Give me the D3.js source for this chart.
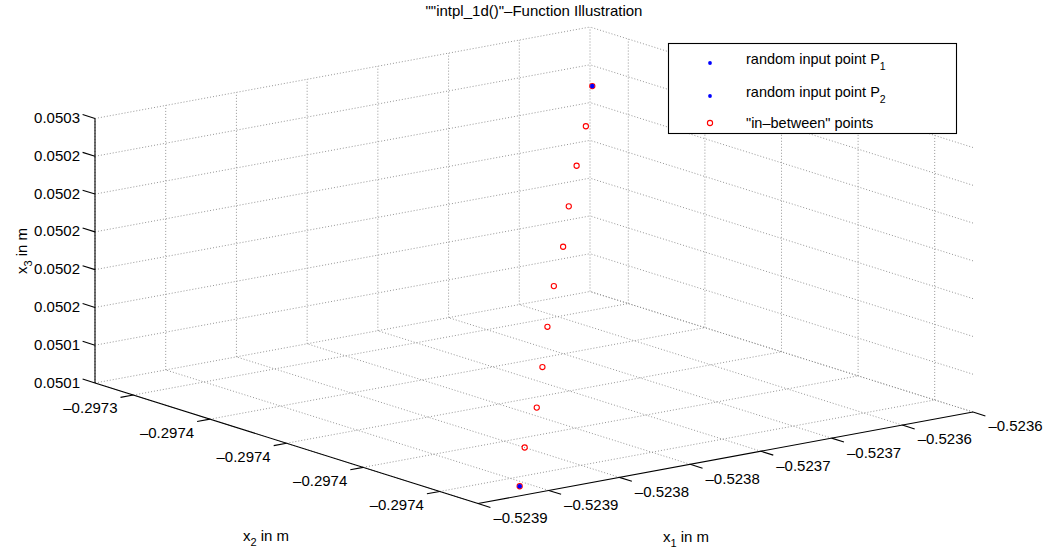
<!DOCTYPE html>
<html>
<head>
<meta charset="utf-8">
<script src="https://cdn.jsdelivr.net/npm/d3@7"></script>
<style>
body { margin: 0; background: #fff; }
text { font-family: "Liberation Sans", Arial, Helvetica, sans-serif; fill: #000; }
</style>
</head>
<body>
<script>
var w = 1052;
var h = 553;

// axis limits
var x1Domain = [-0.52390, -0.52355];
var x2Domain = [-0.297385, -0.297335];
var x3Domain = [0.05014, 0.05028];

// ticks and their labels (as printed)
var x1Ticks = [-0.52390, -0.52385, -0.52380, -0.52375, -0.52370, -0.52365, -0.52360, -0.52355];
var x1Labels = ['\u20130.5239', '\u20130.5239', '\u20130.5238', '\u20130.5238', '\u20130.5237', '\u20130.5237', '\u20130.5236', '\u20130.5236'];
var x2Ticks = [-0.29738, -0.29737, -0.29736, -0.29735, -0.29734];
var x2Labels = ['\u20130.2974', '\u20130.2974', '\u20130.2974', '\u20130.2974', '\u20130.2973'];
var x3Ticks = [0.05014, 0.05016, 0.05018, 0.05020, 0.05022, 0.05024, 0.05026, 0.05028];
var x3Labels = ['0.0501', '0.0501', '0.0502', '0.0502', '0.0502', '0.0502', '0.0502', '0.0503'];

// in-between points, from P1 to P2
var ptX1 = [-0.523550, -0.523580, -0.523612, -0.523643, -0.523673, -0.523705, -0.523735, -0.523764, -0.523794, -0.523828, -0.523857];
var ptX2 = [-0.2973353, -0.2973400, -0.2973447, -0.2973494, -0.2973542, -0.2973589, -0.2973636, -0.2973683, -0.2973731, -0.2973778, -0.2973825];
var ptX3 = [0.0502491, 0.0502380, 0.0502275, 0.0502163, 0.0502052, 0.0501948, 0.0501834, 0.0501721, 0.0501609, 0.0501505, 0.0501400];

// the two random input points
var inputP1 = [-0.523550, -0.2973353, 0.0502491];
var inputP2 = [-0.523857, -0.2973825, 0.0501400];

var legendItems = ['random input point P', 'random input point P', '"in\u2013between" points'];
var legendSubs = ['1', '2', ''];

var scaleA = d3.scaleLinear().domain(x1Domain).range([0, 1]);
var scaleB = d3.scaleLinear().domain(x2Domain).range([0, 1]);
var scaleC = d3.scaleLinear().domain(x3Domain).range([0, 1]);

// orthographic view: screen position of the box corner and the three box edges
var origin = [478, 503.5];
var ex = [495, -91.5];
var ey = [-383, -120.5];
var ez = [0, -264.5];

var proj = (p) => {
	var a = scaleA(p[0]), b = scaleB(p[1]), c = scaleC(p[2]);
	return [
		origin[0] + a * ex[0] + b * ey[0] + c * ez[0],
		origin[1] + a * ex[1] + b * ey[1] + c * ez[1]
	];
};

var unit = (v, s) => {
	var l = Math.sqrt(v[0] * v[0] + v[1] * v[1]);
	return [v[0] / l * s, v[1] / l * s];
};

var svg = d3.select('body').append('svg')
	.attr('width', w)
	.attr('height', h);

var x1min = x1Domain[0], x1max = x1Domain[1];
var x2min = x2Domain[0], x2max = x2Domain[1];
var x3min = x3Domain[0], x3max = x3Domain[1];

// grid segments on the back walls and the floor
var grid = [];
x1Ticks.forEach((t) => {
	grid.push([[t, x2max, x3min], [t, x2max, x3max]]);
	grid.push([[t, x2min, x3min], [t, x2max, x3min]]);
});
x2Ticks.forEach((t) => {
	grid.push([[x1max, t, x3min], [x1max, t, x3max]]);
	grid.push([[x1min, t, x3min], [x1max, t, x3min]]);
});
x3Ticks.forEach((t) => {
	grid.push([[x1min, x2max, t], [x1max, x2max, t]]);
	grid.push([[x1max, x2min, t], [x1max, x2max, t]]);
});

svg.append('g').selectAll('line')
	.data(grid)
	.enter().append('line')
	.attr('x1', (d) => proj(d[0])[0])
	.attr('y1', (d) => proj(d[0])[1])
	.attr('x2', (d) => proj(d[1])[0])
	.attr('y2', (d) => proj(d[1])[1])
	.attr('stroke', '#8a8a8a')
	.attr('stroke-width', 0.9)
	.attr('stroke-dasharray', '1,2');

// axis lines
var axes = [
	[[x1min, x2min, x3min], [x1max, x2min, x3min]],
	[[x1min, x2min, x3min], [x1min, x2max, x3min]],
	[[x1min, x2max, x3min], [x1min, x2max, x3max]]
];
svg.append('g').selectAll('line')
	.data(axes)
	.enter().append('line')
	.attr('x1', (d) => proj(d[0])[0])
	.attr('y1', (d) => proj(d[0])[1])
	.attr('x2', (d) => proj(d[1])[0])
	.attr('y2', (d) => proj(d[1])[1])
	.attr('stroke', '#000')
	.attr('stroke-width', 1.1);

var tickLen = 13;
var dirX1 = unit([-ey[0], -ey[1]], tickLen);
var dirX2 = unit([-ex[0], -ex[1]], tickLen);
var dirX3 = unit(ey, tickLen);

var drawTicks = (ticks, labels, point, dir, place) => {
	var g = svg.append('g');
	ticks.forEach((t, i) => {
		var p = proj(point(t));
		var q = [p[0] + dir[0], p[1] + dir[1]];
		g.append('line')
			.attr('x1', p[0]).attr('y1', p[1])
			.attr('x2', q[0]).attr('y2', q[1])
			.attr('stroke', '#000')
			.attr('stroke-width', 1.1);
		place(g.append('text').text(labels[i]).style('font-size', '15px'), p, q);
	});
};

drawTicks(x1Ticks, x1Labels, (t) => [t, x2min, x3min], dirX1, (txt, p, q) => {
	txt.attr('x', q[0] + 3).attr('y', q[1] + 15.5).attr('text-anchor', 'start');
});
drawTicks(x2Ticks, x2Labels, (t) => [x1min, t, x3min], dirX2, (txt, p, q) => {
	txt.attr('x', q[0] - 3).attr('y', q[1] + 16).attr('text-anchor', 'end');
});
drawTicks(x3Ticks, x3Labels, (t) => [x1min, x2max, t], dirX3, (txt, p, q) => {
	txt.attr('x', 80).attr('y', p[1] + 4.5).attr('text-anchor', 'end');
});

// axis labels with subscripts
var axisLabel = (x, y, sub, rot) => {
	var t = svg.append('text')
		.attr('transform', 'translate(' + x + ',' + y + ')' + (rot ? ' rotate(-90)' : ''))
		.attr('text-anchor', 'middle')
		.style('font-size', '15px');
	t.append('tspan').text('x');
	t.append('tspan').text(sub).attr('dy', 5).style('font-size', '11px');
	t.append('tspan').text(' in m').attr('dy', -5);
};
axisLabel(266, 541, '2', false);
axisLabel(686, 542, '1', false);
axisLabel(27, 251, '3', true);

// title
svg.append('text')
	.attr('x', 534)
	.attr('y', 16)
	.attr('text-anchor', 'middle')
	.style('font-size', '15px')
	.text('""intpl_1d()"\u2013Function Illustration');

// data points
var pts = ptX1.map((d, i) => [d, ptX2[i], ptX3[i]]);

svg.append('g').selectAll('circle')
	.data(pts)
	.enter().append('circle')
	.attr('cx', (d) => proj(d)[0])
	.attr('cy', (d) => proj(d)[1])
	.attr('r', 2.6)
	.attr('fill', 'none')
	.attr('stroke', '#ff0000')
	.attr('stroke-width', 1.1);

svg.append('g').selectAll('circle')
	.data([inputP1, inputP2])
	.enter().append('circle')
	.attr('cx', (d) => proj(d)[0])
	.attr('cy', (d) => proj(d)[1])
	.attr('r', 2.3)
	.attr('fill', '#0000ff');

// legend
var lg = svg.append('g');
lg.append('rect')
	.attr('x', 668.5)
	.attr('y', 43.5)
	.attr('width', 288)
	.attr('height', 90)
	.attr('fill', '#fff')
	.attr('stroke', '#000')
	.attr('stroke-width', 1.1);

var legendY = [63, 96, 123];
var textY = [64, 97, 128];
legendItems.forEach((d, i) => {
	if (i < 2) {
		lg.append('circle')
			.attr('cx', 710).attr('cy', legendY[i])
			.attr('r', 1.9)
			.attr('fill', '#0000ff');
	} else {
		lg.append('circle')
			.attr('cx', 710).attr('cy', legendY[i])
			.attr('r', 2.6)
			.attr('fill', 'none')
			.attr('stroke', '#ff0000')
			.attr('stroke-width', 1.1);
	}
	var t = lg.append('text')
		.attr('x', 746)
		.attr('y', textY[i])
		.style('font-size', '14.5px');
	t.append('tspan').text(d);
	if (legendSubs[i]) {
		t.append('tspan').text(legendSubs[i]).attr('dy', 6).style('font-size', '10.5px');
	}
});
</script>
</body>
</html>
